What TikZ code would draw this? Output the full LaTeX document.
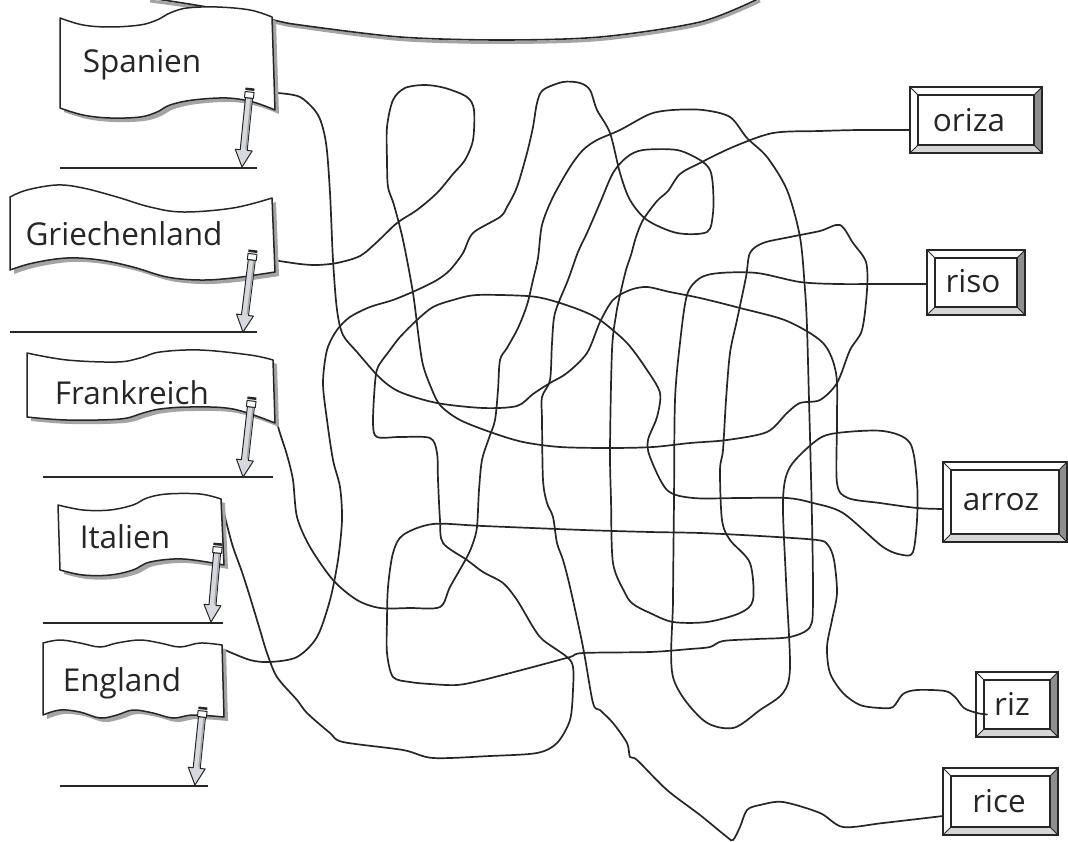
\documentclass[tikz,border=0pt]{standalone}
\usepackage{fontspec}
\setmainfont{Open Sans}
\usetikzlibrary{calc}
\definecolor{ink}{HTML}{262626}
\definecolor{shadowgray}{HTML}{A4A4A4}
\definecolor{pen}{HTML}{D6DADE}
\definecolor{bevdark}{HTML}{8E8E8E}
\definecolor{bevlight}{HTML}{D6D6D6}
\tikzset{
  maze/.style={draw=ink, line width=1.7pt, line join=round, line cap=round},
  flagline/.style={draw=ink, line width=1.5pt, fill=white, line join=round},
  lbl/.style={font=\fontsize{31.5}{36}\selectfont, text=ink, inner sep=0pt, anchor=base},
  wordbox/.style={draw=ink, line width=1.4pt, fill=white, inner sep=0pt, outer sep=0pt},
  answer/.style={draw=ink, line width=1.2pt},
  penc/.style={draw=ink, line width=1pt, line join=round},
}
\newcommand\flag[2]{%
  \fill[shadowgray, shift={(4,4)}] plot[smooth,tension=0.6] coordinates {#1} -- plot[smooth,tension=0.6] coordinates {#2} -- cycle;
  \filldraw[flagline] plot[smooth,tension=0.6] coordinates {#1} -- plot[smooth,tension=0.6] coordinates {#2} -- cycle;
}
\newcommand\pencil[4]{%
  \begin{scope}[shift={(#1,#2)},rotate=#3]
    \filldraw[penc, fill=pen] (-3.5,10) -- (-3.5,#4-17) -- (-8.5,#4-17) -- (0,#4) -- (8.5,#4-17) -- (3.5,#4-17) -- (3.5,10) -- cycle;
    \fill[shadowgray] (1.5,11) rectangle (3,#4-18);
    \filldraw[penc, fill=white] (-4.5,4) rectangle (4.5,10);
    \fill[ink] (-4.5,0) rectangle (4.5,2.5);
  \end{scope}}
\newcommand\bevel[1]{%
  \fill[bevdark] (#1.north east) -- (#1.south east) -- ($(#1.south east)+(-8,-8)$) -- ($(#1.north east)+(-8,8)$) -- cycle;
  \fill[bevlight] (#1.south west) -- (#1.south east) -- ($(#1.south east)+(-8,-8)$) -- ($(#1.south west)+(8,-8)$) -- cycle;
  \draw[ink, line width=1.2pt] ($(#1.north west)+(8,8)$) rectangle ($(#1.south east)+(-8,-8)$);
  \draw[ink, line width=1pt] (#1.north west) -- ++(8,8) (#1.north east) -- ++(-8,8) (#1.south west) -- ++(8,-8) (#1.south east) -- ++(-8,-8);
  \draw[ink, line width=1.4pt] (#1.north west) rectangle (#1.south east);
}
\begin{document}
\begin{tikzpicture}[x=1pt,y=-1pt]
\useasboundingbox (0,0) rectangle (1068,842);
\fill[white] (0,0) rectangle (1068,842);

% top speech-bubble curve
\draw[shadowgray, line width=3pt] plot[smooth] coordinates {(150,1) (207,9) (273,22) (300,27) (400,39.5) (500,42.5) (600,39.5) (700,24.5) (760,1)};
\draw[ink, line width=1.6pt] plot[smooth] coordinates {(150,-2) (207,7) (273,20) (300,25) (400,37) (500,40) (600,37) (700,22) (760,-2)};

% start coordinates
\coordinate (sp) at (277,93);
\coordinate (gr) at (273,260);
\coordinate (fr) at (275,413);
\coordinate (it) at (222,505);
\coordinate (en) at (225,650);

% word boxes
\node[wordbox, minimum width=132pt, minimum height=66pt] (oriza) at (976,120) {};
\node[wordbox, minimum width=98pt, minimum height=65pt] (riso) at (976,282.5) {};
\node[wordbox, minimum width=124pt, minimum height=80pt] (arroz) at (1005,502) {};
\node[wordbox, minimum width=82pt, minimum height=65pt] (riz) at (1017,704.5) {};
\node[wordbox, minimum width=115pt, minimum height=67pt] (rice) at (1000.5,801.5) {};
\coordinate (orizaend) at ($(oriza.west)+(0,10)$);
\coordinate (risoend) at ($(riso.west)+(0,1.5)$);
\coordinate (arrozend) at ($(arroz.west)+(0,7)$);
\coordinate (rizend) at ($(riz.west)+(11,10)$);
\coordinate (riceend) at ($(rice.west)+(0,14.5)$);

% maze lines
\draw[maze] plot[smooth] coordinates {(sp) (300,97) (318,115) (326,143) (330,193) (333,260) (337,310) (343,335) (357,352) (380,378) (400,392) (437,403) (483,408) (517,406) (533,394) (550,383) (567,373) (587,353) (600,322) (613,300) (630,290) (647,287) (670,292) (700,298) (740,308) (787,321) (823,343) (836,373) (837,420) (837,483) (848,498) (880,503) (917,508) (arrozend)};

\draw[maze] plot[smooth] coordinates {(gr) (300,264) (317,265) (337,263) (360,256) (377,242) (397,223) (417,210) (437,193) (453,174) (465,160) (473,140) (474,110) (467,97) (445,88) (425,85) (405,88) (393,100) (387,127) (387,160) (388,187) (394,205) (403,240) (413,293) (419,340) (423,365) (430,385) (440,405) (460,420) (493,433) (523,442) (560,447) (610,448) (653,447) (690,443) (727,440) (767,432) (787,413) (800,403) (820,400) (837,383) (850,350) (862,330) (867,290) (866,262) (853,243) (840,225) (820,231) (790,237) (763,243) (750,253) (746,277) (737,320) (730,353) (726,400) (723,450) (720,470) (722,520) (730,540) (750,563) (753,600) (740,613) (707,622) (673,622) (650,613) (633,604) (625,593) (613,563) (611,500) (610,448) (612,350) (616,315) (620,295) (626,270) (631,255) (636,237) (643,220) (657,201) (668,191) (680,174) (700,163) (733,147) (773,133) (820,131) (860,130) (orizaend)};

\draw[maze] plot[smooth] coordinates {(fr) (279,430) (287,455) (293,480) (297,517) (310,547) (333,580) (357,600) (380,608) (410,608) (440,607) (450,587) (467,557) (473,543) (477,527) (479,490) (482,460) (489,438) (495,420) (498,390) (500,360) (507,348) (518,328) (527,305) (533,280) (538,258) (542,225) (553,197) (570,167) (583,150) (597,140) (620,130) (650,114) (673,110) (703,110) (730,117) (747,138) (767,157) (787,190) (800,237) (805,290) (807,327) (809,400) (810,437) (812,520) (813,600) (810,627) (790,637) (757,639) (723,641) (710,647) (690,649) (650,652) (583,653) (570,657) (533,667) (483,680) (457,685) (430,684) (410,682) (393,677) (387,653) (387,620) (388,587) (393,553) (403,535) (433,524) (483,526) (583,530) (650,532) (700,533) (760,536) (817,540) (828,545) (834,560) (837,593) (832,620) (827,647) (830,673) (843,693) (860,705) (880,708) (893,707) (903,694) (917,690) (945,691) (955,697) (964,708) (977,713) (rizend)};

\draw[maze] plot[smooth] coordinates {(it) (227,525) (233,547) (242,572) (250,597) (260,630) (267,653) (277,677) (297,700) (307,713) (330,733) (343,742) (403,750) (433,758) (490,756) (537,753) (557,743) (570,720) (573,690) (573,667) (567,657) (543,640) (533,627) (517,600) (503,583) (483,572) (467,560) (443,543) (440,520) (438,480) (437,453) (430,438) (400,437) (377,437) (373,423) (375,383) (378,367) (390,350) (400,337) (417,320) (433,307) (453,300) (477,295) (527,296) (550,300) (580,310) (600,320) (627,343) (647,370) (660,393) (657,417) (648,440) (650,457) (667,490) (693,498) (740,498) (787,498) (813,503) (843,513) (883,547) (903,555) (913,552) (917,520) (917,483) (910,443) (883,431) (837,433) (817,440) (790,467) (783,500) (786,580) (790,667) (783,693) (760,710) (733,728) (703,720) (673,677) (673,600) (674,500) (675,400) (680,343) (687,295) (700,278) (720,273) (757,273) (800,282) (837,284) (880,284) (risoend)};

\draw[maze] plot[smooth] coordinates {(en) (250,660) (270,662) (297,657) (317,637) (330,600) (338,560) (342,520) (340,487) (333,460) (327,420) (323,383) (327,350) (337,330) (350,317) (370,307) (393,300) (417,290) (437,280) (450,270) (463,253) (473,233) (500,217) (507,207) (517,187) (527,153) (533,127) (537,103) (543,90) (563,82) (580,83) (590,90) (597,110) (610,133) (620,173) (630,200) (647,220) (677,233) (707,232) (713,213) (713,187) (710,170) (700,160) (677,150) (643,150) (627,157) (613,173) (600,203) (587,233) (578,252) (568,280) (555,313) (552,343) (550,380) (542,397) (542,420) (543,480) (547,503) (553,517) (557,543) (563,560) (570,587) (583,647) (593,703) (600,710) (613,723) (627,743) (630,757) (637,760) (667,790) (700,815) (727,837) (733,840) (740,827) (747,810) (760,805) (783,802) (820,813) (843,827) (883,823) (riceend)};

% flags
\flag{(60,18) (83,25) (110,27) (140,25) (157,20) (170,13) (187,8) (217,7) (250,10) (272,17)}{(275,110) (253,102) (227,98) (193,100) (170,105) (157,112) (140,117) (110,118) (83,115) (60,108)}
\flag{(10,197) (27,190) (57,185) (83,188) (117,197) (150,207) (183,212) (233,208) (272,198)}{(275,272) (233,278) (200,280) (167,277) (133,267) (100,260) (67,258) (33,263) (10,270)}
\flag{(27,353) (67,360) (117,362) (140,358) (160,352) (200,350) (250,355) (273,360)}{(275,423) (233,409) (190,407) (160,409) (143,413) (120,419) (67,420) (27,417)}
\flag{(58,505) (83,510) (110,510) (133,505) (147,498) (167,494) (200,494) (221,499)}{(224,565) (183,559) (150,562) (133,570) (110,575) (83,575) (60,570)}
\flag{(43,643) (60,640) (80,643) (100,647) (117,643) (140,640) (160,643) (180,647) (200,643) (222,645)}{(224,717) (193,715) (173,718) (153,713) (133,710) (117,715) (100,718) (80,712) (60,710) (43,715)}

\node[lbl] (spanien) at (142,73) {Spanien};
\node[lbl] (griechenland) at (124,246) {Griechenland};
\node[lbl] (frankreich) at (132,404) {Frankreich};
\node[lbl] (italien) at (125,548) {Italien};
\node[lbl] (england) at (122,691) {England};

% answer lines and pencils
\draw[answer] (60,168) -- (257,168);
\draw[answer] (10,332) -- (257,332);
\draw[answer] (43,477) -- (273,477);
\draw[answer] (43,623) -- (223,623);
\draw[answer] (60,786) -- (208,786);
\pencil{250}{88}{-5.8}{79.4}
\pencil{253}{250}{-7}{82.6}
\pencil{252}{397}{-6.4}{80.5}
\pencil{218}{543}{-5.1}{79.3}
\pencil{203}{707}{-5.9}{78.4}

% bevels and box words
\bevel{oriza}
\bevel{riso}
\bevel{arroz}
\bevel{riz}
\bevel{rice}
\node[lbl] (orizat) at (969,132) {oriza};
\node[lbl] (risot) at (973,293) {riso};
\node[lbl] (arrozt) at (1001,510) {arroz};
\node[lbl] (rizt) at (1012,715) {riz};
\node[lbl] (ricet) at (999,812) {rice};
\end{tikzpicture}
\end{document}
